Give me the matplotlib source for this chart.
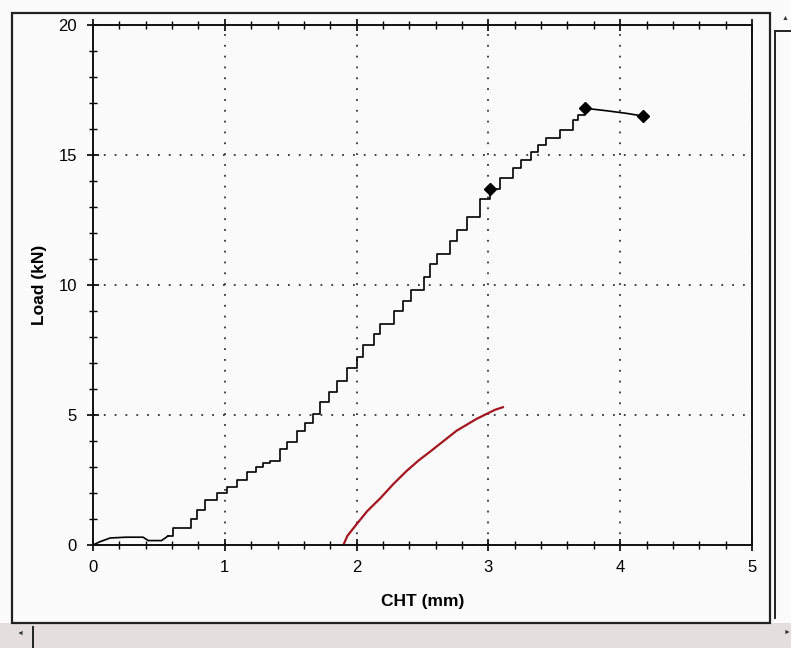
import matplotlib
matplotlib.use("Agg")
import matplotlib.pyplot as plt
from matplotlib.lines import Line2D
from matplotlib.patches import Rectangle
from matplotlib.ticker import MultipleLocator

plt.rcParams["font.family"] = ["Liberation Sans", "DejaVu Sans"]

# black load curve (CHT mm, load kN)
toe_x = [0.00, 0.05, 0.13, 0.25, 0.38, 0.42, 0.52, 0.57]
toe_y = [0.00, 0.12, 0.27, 0.30, 0.30, 0.17, 0.17, 0.35]

stair_x = [0.57, 0.61, 0.68, 0.74, 0.79, 0.85, 0.94, 1.02, 1.09, 1.17,
           1.24, 1.29, 1.34, 1.42, 1.47, 1.55, 1.61, 1.67, 1.72, 1.79,
           1.85, 1.93, 2.00, 2.05, 2.13, 2.18, 2.28, 2.35, 2.41, 2.51,
           2.56, 2.61, 2.71, 2.76, 2.84, 2.94, 3.01, 3.09, 3.19, 3.25,
           3.32, 3.38, 3.44, 3.54, 3.64, 3.68, 3.73]
stair_y = [0.35, 0.65, 0.65, 1.00, 1.36, 1.74, 2.00, 2.25, 2.50, 2.80,
           3.00, 3.15, 3.25, 3.70, 3.95, 4.38, 4.70, 5.04, 5.50, 5.90,
           6.30, 6.80, 7.25, 7.70, 8.10, 8.50, 9.00, 9.40, 9.80, 10.30,
           10.80, 11.20, 11.70, 12.10, 12.60, 13.30, 13.70, 14.10, 14.50, 14.80,
           15.10, 15.40, 15.65, 15.96, 16.35, 16.55, 16.80]

tail_x = [3.73, 3.90, 4.05, 4.17]
tail_y = [16.80, 16.70, 16.60, 16.50]

marker_x = [3.01, 3.73, 4.17]
marker_y = [13.70, 16.80, 16.50]

# red unloading / fit curve
red_x = [1.90, 1.93, 2.00, 2.08, 2.18, 2.28, 2.38, 2.47, 2.56, 2.66, 2.76, 2.91, 3.05, 3.11]
red_y = [0.00, 0.35, 0.80, 1.30, 1.80, 2.35, 2.85, 3.25, 3.60, 4.00, 4.40, 4.85, 5.20, 5.30]

W, H = 791, 648
fig = plt.figure(figsize=(W / 100, H / 100), dpi=100)
fig.patch.set_facecolor("#fbfbfb")


def fx(px):
    return px / W


def fy(py):
    return 1 - py / H


# screen chrome around the chart
fig.add_artist(Rectangle((0, 0), 1, fy(623), transform=fig.transFigure,
                         facecolor="#e4dede", edgecolor="none", zorder=0))
fig.add_artist(Rectangle((fx(12), fy(623)), fx(770) - fx(12), fy(13) - fy(623),
                         transform=fig.transFigure, facecolor="none",
                         edgecolor="#222222", linewidth=1.6))
fig.add_artist(Line2D([fx(775), fx(775)], [fy(31), fy(618)], transform=fig.transFigure,
                      color="#222222", linewidth=1.4))
fig.add_artist(Line2D([fx(775), 1], [fy(31), fy(31)], transform=fig.transFigure,
                      color="#222222", linewidth=1.4))
fig.add_artist(Line2D([fx(33), fx(33)], [fy(627), 0], transform=fig.transFigure,
                      color="#222222", linewidth=1.4))
fig.text(fx(785), fy(19), "\u25b2", fontsize=5, ha="center", va="center", color="#333333")
fig.text(fx(20), fy(633), "\u25c4", fontsize=5, ha="center", va="center", color="#333333")
fig.text(fx(787), fy(632), "\u25ba", fontsize=5, ha="center", va="center", color="#333333")

ax = fig.add_axes([fx(93), fy(545), fx(752) - fx(93), fy(25) - fy(545)])
ax.set_facecolor("#fafafa")

ax.plot(toe_x, toe_y, color="black", linewidth=1.2)
ax.plot(stair_x, stair_y, color="black", linewidth=1.2, drawstyle="steps-post")
ax.plot(tail_x, tail_y, color="black", linewidth=1.2)
ax.plot(marker_x, marker_y, linestyle="none", marker="D", markersize=6,
        color="black")
ax.plot(red_x, red_y, color="#a3151f", linewidth=1.6)

ax.set_xlim(0, 5)
ax.set_ylim(0, 20)
ax.xaxis.set_major_locator(MultipleLocator(1))
ax.xaxis.set_minor_locator(MultipleLocator(0.2))
ax.yaxis.set_major_locator(MultipleLocator(5))
ax.yaxis.set_minor_locator(MultipleLocator(1))

ax.grid(True, which="major", color="#333333", linestyle=(0, (1, 5)), linewidth=1.3)

ax.tick_params(axis="x", which="major", direction="inout", length=9, width=1.2,
               top=True, labelsize=12, pad=6)
ax.tick_params(axis="x", which="minor", direction="inout", length=6, width=1.0, top=True)
ax.tick_params(axis="y", which="major", direction="inout", length=9, width=1.2,
               right=False, labelsize=12, pad=7)
ax.tick_params(axis="y", which="minor", direction="inout", length=6, width=1.0, right=False)

for s in ax.spines.values():
    s.set_linewidth(1.4)
    s.set_color("#111111")

ax.set_xlabel("CHT (mm)", fontsize=12.5, fontweight="bold", labelpad=14)
ax.set_ylabel("Load (kN)", fontsize=12.5, fontweight="bold", labelpad=8)

fig.savefig("out.png", dpi=100)
